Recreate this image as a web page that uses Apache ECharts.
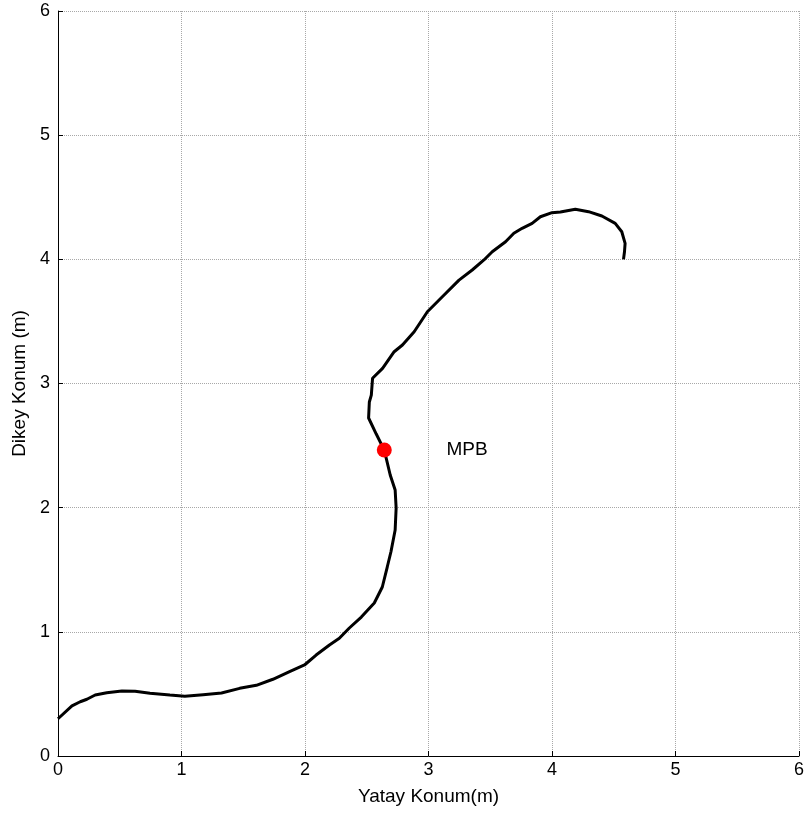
<!DOCTYPE html>
<html>
<head>
<meta charset="utf-8">
<script src="https://cdn.jsdelivr.net/npm/echarts@6/dist/echarts.min.js"></script>
<style>html,body{margin:0;padding:0;background:#fff;}#c{width:807px;height:813px;}</style>
</head>
<body>
<div id="c"></div>
<script>
var xTicks = [0, 1, 2, 3, 4, 5, 6];
var yTicks = [0, 1, 2, 3, 4, 5, 6];
var pathX = [0.0, 0.113, 0.18, 0.234, 0.301, 0.395, 0.517, 0.624, 0.745, 0.906, 1.027, 1.175, 1.324, 1.471, 1.606, 1.74, 1.875, 1.996, 2.09, 2.198, 2.278, 2.359, 2.456, 2.561, 2.626, 2.666, 2.696, 2.73, 2.738, 2.73, 2.69, 2.642, 2.577, 2.515, 2.521, 2.537, 2.547, 2.628, 2.722, 2.789, 2.884, 2.991, 3.112, 3.247, 3.354, 3.449, 3.516, 3.624, 3.691, 3.758, 3.839, 3.906, 4.0, 4.068, 4.189, 4.296, 4.404, 4.512, 4.565, 4.592, 4.587, 4.579];
var pathY = [0.30, 0.403, 0.437, 0.457, 0.491, 0.51, 0.523, 0.521, 0.505, 0.491, 0.481, 0.494, 0.507, 0.545, 0.569, 0.618, 0.679, 0.733, 0.813, 0.894, 0.948, 1.031, 1.119, 1.232, 1.361, 1.522, 1.645, 1.82, 1.997, 2.142, 2.263, 2.464, 2.593, 2.722, 2.851, 2.907, 3.042, 3.122, 3.256, 3.31, 3.417, 3.578, 3.699, 3.833, 3.914, 3.995, 4.061, 4.142, 4.21, 4.25, 4.29, 4.343, 4.376, 4.381, 4.403, 4.384, 4.349, 4.29, 4.222, 4.129, 4.061, 4.0];
var markerPoint = [2.642, 2.464];
var labelText = 'MPB';
var labelPoint = [3.145, 2.464];
var xName = 'Yatay Konum(m)';
var yName = 'Dikey Konum (m)';

var lineData = pathX.map(function (x, i) { return [x, pathY[i]]; });
var FONT = '"Liberation Sans", Arial, sans-serif';
var chart = echarts.init(document.getElementById('c'), null, {renderer: 'canvas'});
chart.setOption({
  animation: false,
  backgroundColor: '#fff',
  grid: {left: 58, right: 5, top: 11, bottom: 57, containLabel: false},
  xAxis: {
    type: 'value', min: xTicks[0], max: xTicks[xTicks.length - 1], interval: 1,
    name: xName, nameLocation: 'middle', nameGap: 31,
    nameTextStyle: {fontFamily: FONT, fontSize: 19, color: '#000'},
    axisLine: {show: true, onZero: false, lineStyle: {color: '#000', width: 1}},
    axisTick: {show: true, inside: true, length: 5, lineStyle: {color: '#000'}},
    axisLabel: {margin: 5, fontFamily: FONT, fontSize: 18, color: '#000'},
    splitLine: {show: true, lineStyle: {color: '#a8a8a8', type: [1, 1], width: 1}}
  },
  yAxis: {
    type: 'value', min: yTicks[0], max: yTicks[yTicks.length - 1], interval: 1,
    name: yName, nameLocation: 'middle', nameGap: 29,
    nameTextStyle: {fontFamily: FONT, fontSize: 19, color: '#000'},
    axisLine: {show: true, onZero: false, lineStyle: {color: '#000', width: 1}},
    axisTick: {show: true, inside: true, length: 5, lineStyle: {color: '#000'}},
    axisLabel: {margin: 8, fontFamily: FONT, fontSize: 18, color: '#000'},
    splitLine: {show: true, lineStyle: {color: '#a8a8a8', type: [1, 1], width: 1}}
  },
  series: [
    {
      type: 'line', data: lineData, showSymbol: false, symbol: 'none', smooth: false,
      lineStyle: {color: '#000', width: 3}, z: 3
    },
    {
      type: 'scatter', data: [markerPoint], symbol: 'circle', symbolSize: 15,
      itemStyle: {color: '#ff0000', opacity: 1}, z: 4
    },
    {
      type: 'scatter', data: [labelPoint], symbolSize: 0,
      itemStyle: {color: '#fff', opacity: 1},
      label: {show: true, position: 'right', distance: 0, formatter: labelText,
        fontFamily: FONT, fontSize: 19, color: '#000'}, z: 5
    }
  ]
});
</script>
</body>
</html>
